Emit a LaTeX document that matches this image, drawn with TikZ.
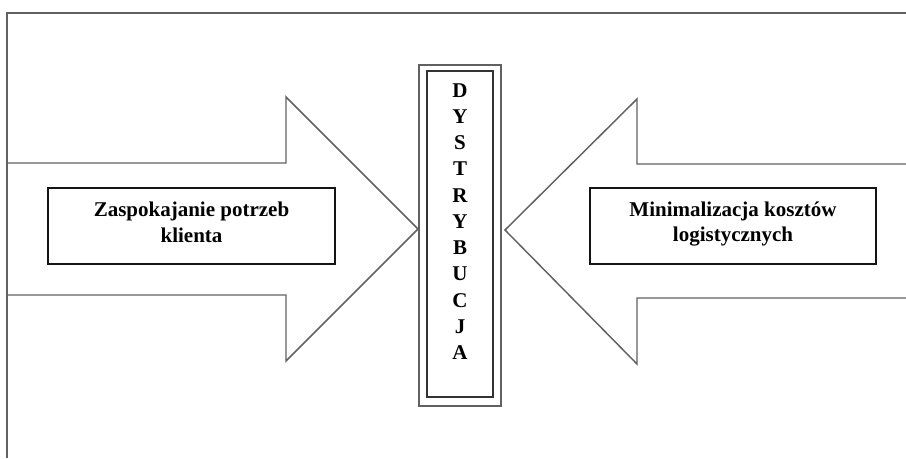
\documentclass[tikz,border=0pt]{standalone}
\usepackage{fontspec}
\setmainfont{Liberation Serif}
\begin{document}
\begin{tikzpicture}[x=0.75pt,y=-0.75pt,
  grayline/.style={draw=black!62, line width=1.1pt, line join=miter},
  txtbox/.style={draw=black!92, line width=1pt, inner sep=0pt, fill=white},
  outerbox/.style={draw=black!62, line width=1.1pt, inner sep=0pt, fill=white, minimum width=61.5pt, minimum height=255.75pt},
  innerbox/.style={draw=black!80, line width=1.1pt, inner sep=0pt, minimum width=49.5pt, minimum height=244.5pt},
  lbl/.style={font=\bfseries\fontsize{15.75}{18.9}\selectfont, align=center, inner sep=0pt},
  letters/.style={font=\bfseries\fontsize{15.75}{19.7}\selectfont, align=center, inner sep=0pt}]
\useasboundingbox (0,0) rectangle (906,458);
% frame (top and left sides visible)
\draw[grayline] (906,13) -- (7,13) -- (7,458);
% left arrow
\draw[grayline] (7,163) -- (286,163) -- (286,97) -- (418,229) -- (286,361) -- (286,295) -- (7,295) -- cycle;
% right arrow
\draw[grayline] (906,164) -- (637,164) -- (637,99) -- (505,230) -- (637,364) -- (637,298) -- (906,298);
% central double box
\node[outerbox] (dout) at (460,235.5) {};
\node[innerbox] (din) at (460,234) {};
\node[letters] (dtext) at (460,221.5) {D\\Y\\S\\T\\R\\Y\\B\\U\\C\\J\\A};
% text boxes
\node[txtbox, minimum width=215.25pt, minimum height=57pt] (lbox) at (191.5,226) {};
\node[lbl] (ltext) at (191.5,222.3) {Zaspokajanie potrzeb\\klienta};
\node[txtbox, minimum width=214.5pt, minimum height=57pt] (rbox) at (733,226) {};
\node[lbl] (rtext) at (733,224.4) {Minimalizacja kosztów\\logistycznych};
\end{tikzpicture}
\end{document}
